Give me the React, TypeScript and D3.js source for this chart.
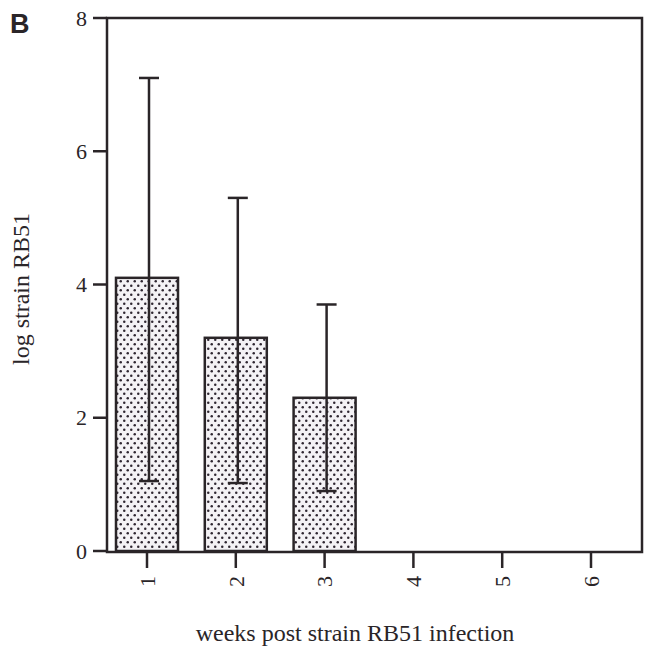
import React from "react";
import * as d3 from "d3";

const weeks = [1, 2, 3, 4, 5, 6];
const barWeeks = [1, 2, 3];
const means = [4.1, 3.2, 2.3];
const upper = [7.1, 5.3, 3.7];
const lower = [1.05, 1.02, 0.9];
const yTicks = [0, 2, 4, 6, 8];

const W = 649;
const H = 656;
const frameLeft = 107;
const frameRight = 642;
const frameTop = 18;
const frameBottom = 552;

export default function App() {
  const y = d3.scaleLinear().domain([0, 8]).range([551, 18]);
  const x = d3.scaleLinear().domain([1, 6]).range([147, 591]);
  const barW = 62;
  const capW = 20;
  const font = "'Liberation Serif', 'Times New Roman', serif";
  const ink = "#2a2528";

  return (
    <svg
      width={W}
      height={H}
      style={{ position: "absolute", left: 0, top: 0, background: "#fff" }}
    >
      <defs>
        <pattern id="dots" width={7} height={9} patternUnits="userSpaceOnUse">
          <rect width={7} height={9} fill="#f4f2f5" />
          <circle cx={1.75} cy={2.25} r={1.25} fill="#2e2630" />
          <circle cx={5.25} cy={6.75} r={1.25} fill="#2e2630" />
        </pattern>
      </defs>

      <text x={10} y={33} fontFamily="'Liberation Sans', Arial, sans-serif" fontWeight="bold" fontSize={27} fill={ink}>
        B
      </text>

      {barWeeks.map((w, i) => (
        <rect
          key={"bar" + w}
          x={x(w) - barW / 2}
          y={y(means[i])}
          width={barW}
          height={y(0) - y(means[i])}
          fill="url(#dots)"
          stroke={ink}
          strokeWidth={2.5}
        />
      ))}

      {barWeeks.map((w, i) => (
        <g key={"err" + w} stroke={ink} strokeWidth={2.5}>
          <line x1={x(w) + 2} x2={x(w) + 2} y1={y(upper[i])} y2={y(lower[i])} />
          <line x1={x(w) + 2 - capW / 2} x2={x(w) + 2 + capW / 2} y1={y(upper[i])} y2={y(upper[i])} />
          <line x1={x(w) + 2 - capW / 2} x2={x(w) + 2 + capW / 2} y1={y(lower[i])} y2={y(lower[i])} />
        </g>
      ))}

      <rect
        x={frameLeft}
        y={frameTop}
        width={frameRight - frameLeft}
        height={frameBottom - frameTop}
        fill="none"
        stroke={ink}
        strokeWidth={2.5}
      />

      {yTicks.map((t) => (
        <g key={"yt" + t}>
          <line x1={frameLeft - 14} x2={frameLeft} y1={y(t)} y2={y(t)} stroke={ink} strokeWidth={2.5} />
          <text
            x={frameLeft - 20}
            y={y(t)}
            dy="0.35em"
            textAnchor="end"
            fontFamily={font}
            fontSize={22}
            fill={ink}
          >
            {t}
          </text>
        </g>
      ))}

      {weeks.map((w) => (
        <g key={"xt" + w}>
          <line x1={x(w)} x2={x(w)} y1={frameBottom} y2={frameBottom + 16} stroke={ink} strokeWidth={2.5} />
          <text
            transform={`translate(${x(w)},${frameBottom + 24}) rotate(-90)`}
            dy="0.35em"
            textAnchor="end"
            fontFamily={font}
            fontSize={22}
            fill={ink}
          >
            {w}
          </text>
        </g>
      ))}

      <text
        x={355}
        y={641}
        textAnchor="middle"
        fontFamily={font}
        fontSize={24}
        fill={ink}
      >
        weeks post strain RB51 infection
      </text>

      <text
        transform={`translate(29,${289}) rotate(-90)`}
        textAnchor="middle"
        fontFamily={font}
        fontSize={24}
        fill={ink}
      >
        log strain RB51
      </text>
    </svg>
  );
}
